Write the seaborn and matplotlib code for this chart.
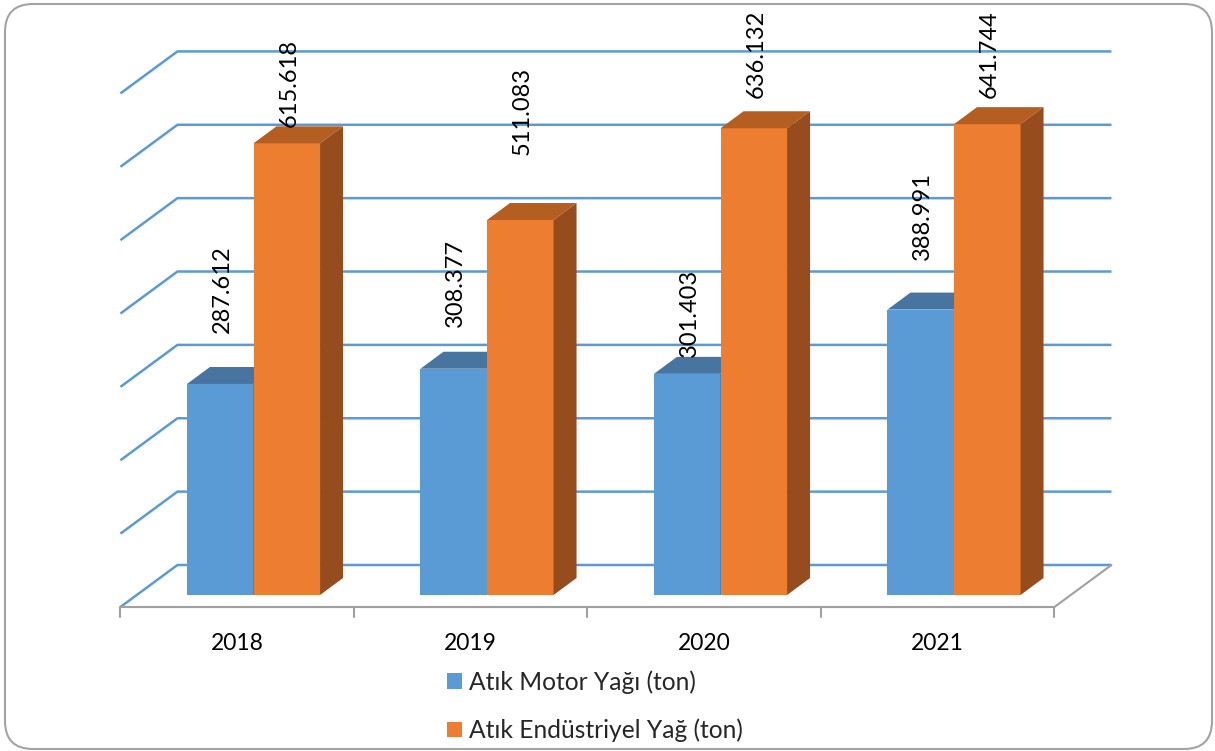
import numpy as np
import pandas as pd
import matplotlib
matplotlib.use("Agg")
import matplotlib.pyplot as plt
from matplotlib.patches import Polygon, FancyBboxPatch, Rectangle
import seaborn as sns

# ---- data ----
years = ["2018", "2019", "2020", "2021"]
motor_oil = [287.612, 308.377, 301.403, 388.991]
industrial_oil = [615.618, 511.083, 636.132, 641.744]
series_names = ["Atık Motor Yağı (ton)", "Atık Endüstriyel Yağ (ton)"]
grid_values = [0, 100, 200, 300, 400, 500, 600, 700]

# vertical gap (pixels) between each bar's front top edge and its value label
motor_label_lift = [51, 42, 17, 50]
industrial_label_lift = [16, 65, 30, 26]

# ---- style ----
BLUE, BLUE_TOP, BLUE_SIDE = "#5B9BD5", "#4775A0", "#3E6A94"
ORANGE, ORANGE_TOP, ORANGE_SIDE = "#ED7D31", "#B55E22", "#974C1D"
GRID = "#5B9BD5"
FLOOR = "#A0A0A0"
FONT = ["Lato", "DejaVu Sans"]

W_PX, H_PX = 1215, 751

sns.set_theme(style="white")
plt.rcParams["font.family"] = FONT

df = pd.DataFrame({
    "year": years * 2,
    "series": [series_names[0]] * len(years) + [series_names[1]] * len(years),
    "value": motor_oil + industrial_oil,
})

fig = plt.figure(figsize=(W_PX / 100, H_PX / 100), dpi=100)
ax = fig.add_axes([0, 0, 1, 1])

sns.barplot(data=df, x="year", y="value", hue="series", order=years,
            hue_order=series_names, palette=[BLUE, ORANGE], saturation=1,
            width=0.57, errorbar=None, linewidth=0, legend=False, ax=ax)

# map the data space onto the canvas: baseline at 595 px from the top,
# group centres 233.5 px apart, 0.7337 px per ton
base_px, px_per_ton = 595.0, 0.7337
x0_px, px_per_cat = 253.5, 233.5
ax.set_xlim(-x0_px / px_per_cat, (W_PX - x0_px) / px_per_cat)
ax.set_ylim(-(H_PX - base_px) / px_per_ton, base_px / px_per_ton)
ax.set_axis_off()

# pixel -> data conversions from the axes' own scales
p0 = ax.transData.transform((0, 0))
p1 = ax.transData.transform((1, 1))
ppx, ppy = p1[0] - p0[0], p1[1] - p0[1]


def off(dx_px, dy_px_up):
    return dx_px / ppx, dy_px_up / ppy


bar_d = off(23, 17)        # bar depth
back_d = off(40.7, 30)     # back wall relative to bar front plane
front_d = off(-16.3, -12)  # front edge of the floor
left, right = -0.5, len(years) - 0.5

# back wall gridlines and the left side wall
for g in grid_values:
    ax.plot([right + back_d[0], left + back_d[0], left + front_d[0]],
            [g + back_d[1], g + back_d[1], g + front_d[1]],
            color=GRID, lw=1.8, zorder=1, solid_capstyle="butt")

# floor outline
ax.plot([left + front_d[0], right + front_d[0], right + back_d[0]],
        [front_d[1], front_d[1], back_d[1]], color=FLOOR, lw=1.5, zorder=1)
tick_d = off(0, -10)
for k in range(len(years) + 1):
    x = left + k + front_d[0]
    ax.plot([x, x], [front_d[1], front_d[1] + tick_d[1]], color=FLOOR,
            lw=1.5, zorder=1)

# category labels
for i, yr in enumerate(years):
    ax.text(i + front_d[0], off(0, -48)[1], yr, ha="center", va="center",
            fontsize=16.5, color="black")

# 3D faces and value labels
faces = [(BLUE_TOP, BLUE_SIDE, 3, motor_label_lift),
         (ORANGE_TOP, ORANGE_SIDE, 4, industrial_label_lift)]
for container, (top_c, side_c, z, lifts) in zip(ax.containers, faces):
    for bar, lift in zip(container, lifts):
        bar.set_zorder(z)
        x0, w, h = bar.get_x(), bar.get_width(), bar.get_height()
        dx, dy = bar_d
        ax.add_patch(Polygon([(x0, h), (x0 + w, h), (x0 + w + dx, h + dy),
                              (x0 + dx, h + dy)], closed=True,
                             facecolor=top_c, edgecolor="none", zorder=z))
        ax.add_patch(Polygon([(x0 + w, 0), (x0 + w + dx, dy),
                              (x0 + w + dx, h + dy), (x0 + w, h)], closed=True,
                             facecolor=side_c, edgecolor="none", zorder=z))
        ax.annotate(f"{h:.3f}", xy=(x0 + w / 2, h), xytext=(2, lift),
                    textcoords="offset pixels", rotation=90, ha="center",
                    va="bottom", fontsize=17, color="black", zorder=6)

# legend
handles = [Rectangle((0, 0), 1, 1, facecolor=BLUE, edgecolor="none"),
           Rectangle((0, 0), 1, 1, facecolor=ORANGE, edgecolor="none")]
fig.legend(handles, series_names, loc="upper left",
           bbox_to_anchor=(447 / W_PX, 1 - 670 / H_PX), frameon=False,
           fontsize=17.7, handlelength=0.6, handleheight=0.6,
           handletextpad=0.28, labelspacing=1.02, borderpad=0,
           borderaxespad=0)

# rounded chart frame
frame_ax = fig.add_axes([0, 0, 1, 1], zorder=-1)
frame_ax.set_xlim(0, W_PX)
frame_ax.set_ylim(H_PX, 0)
frame_ax.set_axis_off()
frame_ax.add_patch(FancyBboxPatch((5 + 28, 4 + 28), 1207 - 56, 745 - 56,
                                  boxstyle="round,pad=28", facecolor="white",
                                  edgecolor="#A3A3A3", lw=1.5))

fig.savefig("out.png", dpi=100)
